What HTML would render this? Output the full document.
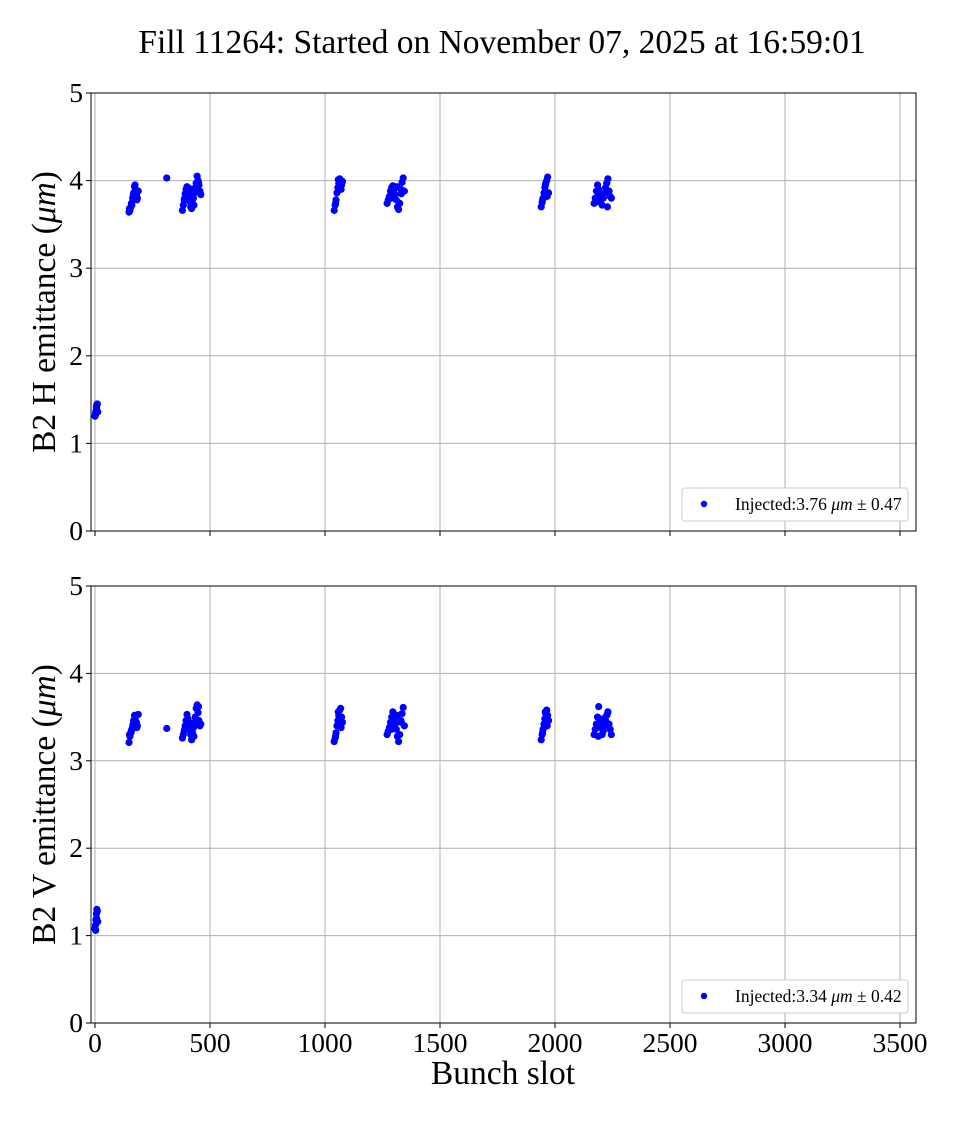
<!DOCTYPE html>
<html><head><meta charset="utf-8"><style>
body{margin:0;background:#fff}
svg text{font-family:"Liberation Serif","DejaVu Serif",serif}
</style></head><body>
<svg id="c" width="960" height="1120" xmlns="http://www.w3.org/2000/svg">
<text x="502" y="53" text-anchor="middle" font-size="33.5">Fill 11264: Started on November 07, 2025 at 16:59:01</text>
</svg>
<script>
const slots=[0,2,4,6,8,10,12,3,7,
148,152,156,160,164,168,172,176,180,184,188,150,158,166,174,182,
312,
380,384,388,392,396,400,404,408,412,416,420,424,428,432,436,440,444,448,452,456,460,390,410,430,450,
1040,1044,1048,1052,1056,1060,1064,1068,1072,1076,1046,1058,1070,
1270,1275,1280,1285,1290,1295,1300,1305,1310,1315,1320,1325,1330,1335,1340,1345,1288,1312,1332,
1940,1944,1948,1952,1956,1960,1964,1968,1972,1946,1958,1966,
2170,2175,2180,2185,2190,2195,2200,2205,2210,2215,2220,2225,2230,2235,2240,2245,2188,2208,2228];
const hVals=[1.31,1.34,1.37,1.42,1.44,1.45,1.36,1.33,1.40,
3.64,3.66,3.70,3.72,3.80,3.86,3.93,3.90,3.84,3.80,3.88,3.68,3.74,3.83,3.95,3.78,
4.03,
3.66,3.72,3.78,3.85,3.90,3.93,3.88,3.82,3.76,3.70,3.68,3.74,3.80,3.86,3.92,3.97,4.05,4.00,3.95,3.88,3.84,3.80,3.91,3.72,3.98,
3.66,3.72,3.78,3.86,3.92,3.97,4.02,4.00,3.95,3.99,3.74,4.01,3.90,
3.74,3.78,3.82,3.88,3.92,3.94,3.90,3.84,3.78,3.70,3.67,3.74,3.90,3.98,4.03,3.88,3.80,3.93,3.85,
3.70,3.75,3.80,3.86,3.92,3.97,4.00,4.04,3.86,3.78,3.95,3.82,
3.74,3.80,3.88,3.95,3.90,3.84,3.78,3.72,3.80,3.86,3.92,3.97,4.02,3.88,3.82,3.80,3.76,3.84,3.70];
const vVals=[1.08,1.12,1.18,1.25,1.30,1.28,1.16,1.06,1.20,
3.21,3.28,3.32,3.36,3.40,3.46,3.52,3.50,3.44,3.40,3.53,3.30,3.34,3.42,3.48,3.38,
3.37,
3.26,3.30,3.34,3.40,3.46,3.53,3.48,3.42,3.36,3.30,3.24,3.32,3.38,3.44,3.50,3.60,3.64,3.55,3.46,3.40,3.42,3.36,3.44,3.28,3.62,
3.22,3.26,3.32,3.40,3.46,3.52,3.58,3.60,3.50,3.44,3.28,3.56,3.38,
3.30,3.34,3.38,3.44,3.50,3.56,3.48,3.42,3.36,3.28,3.22,3.30,3.46,3.54,3.61,3.40,3.36,3.52,3.44,
3.24,3.30,3.36,3.42,3.48,3.54,3.58,3.52,3.46,3.32,3.56,3.40,
3.30,3.36,3.42,3.50,3.62,3.44,3.38,3.30,3.34,3.40,3.46,3.52,3.56,3.42,3.36,3.30,3.28,3.48,3.54];
const xTicks=[0,500,1000,1500,2000,2500,3000,3500];
const yTicks=[0,1,2,3,4,5];
const legendH='Injected:3.76 <tspan font-style="italic">μm</tspan> ± 0.47';
const legendV='Injected:3.34 <tspan font-style="italic">μm</tspan> ± 0.42';

const svg=document.getElementById('c');
const NS='http://www.w3.org/2000/svg';
function mk(t,a,p){const e=document.createElementNS(NS,t);for(const k in a)e.setAttribute(k,a[k]);(p||svg).appendChild(e);return e;}
const L=91,R=916;
const xs=v=>95+v*0.23;
function panel(top,bot,vals,label,leg,showX,nm){
  const g=mk('g',{});
  
  
  const ys=v=>bot-(bot-top)*v/5;
  xTicks.forEach(t=>{const l=mk('line',{x1:xs(t),x2:xs(t),y1:top,y2:bot,stroke:'#b0b0b0','stroke-width':1},g);
    
    mk('line',{x1:xs(t),x2:xs(t),y1:bot,y2:bot+5,stroke:'#000'},g);
    if(showX){const tx=mk('text',{x:xs(t),y:bot+29,'text-anchor':'middle','font-size':27.5},g);tx.textContent=t;
      }});
  yTicks.forEach(t=>{const l=mk('line',{x1:L,x2:R,y1:ys(t),y2:ys(t),stroke:'#b0b0b0','stroke-width':1},g);
    
    mk('line',{x1:L-5,x2:L,y1:ys(t),y2:ys(t),stroke:'#000'},g);
    const tx=mk('text',{x:L-8,y:ys(t)+9,'text-anchor':'end','font-size':27.5},g);tx.textContent=t;
    });
  const fr=mk('rect',{x:L,y:top,width:R-L,height:bot-top,fill:'none',stroke:'#000','stroke-width':1},g);
  
  slots.forEach((s,i)=>{const c=mk('circle',{cx:xs(s),cy:ys(vals[i]),r:3.6,fill:'#0000ff'},g);
    });
  const yl=mk('text',{x:0,y:0,'text-anchor':'middle','font-size':33.5,transform:`translate(55,${(top+bot)/2}) rotate(-90)`},g);
  yl.innerHTML=label;
  
  const lg=mk('g',{},g);
  
  mk('rect',{x:682,y:bot-43,width:226,height:33,rx:3,fill:'#fff',stroke:'#ccc'},lg);
  mk('circle',{cx:704,cy:bot-27,r:3.2,fill:'#0000ff'},lg);
  const lt=mk('text',{x:735,y:bot-21,'font-size':17.5},lg);lt.innerHTML=leg;
}
panel(93,531,hVals,'B2 H emittance (<tspan font-style="italic">μm</tspan>)',legendH,false,'top-panel-h-emittance');
panel(586,1023,vVals,'B2 V emittance (<tspan font-style="italic">μm</tspan>)',legendV,true,'bottom-panel-v-emittance');
const xl=mk('text',{x:503,y:1084,'text-anchor':'middle','font-size':33.5});xl.textContent='Bunch slot';


</script>
</body></html>
